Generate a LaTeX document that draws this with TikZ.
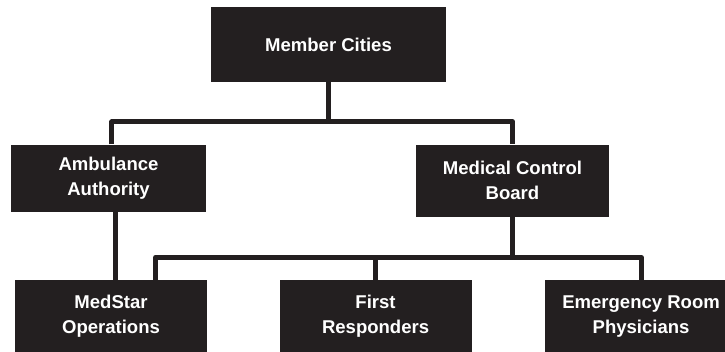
\documentclass[tikz,border=0pt]{standalone}
\usepackage{xcolor}
\usepackage{fontspec}
\setmainfont{Liberation Sans}
\usepackage{tikz}
\usetikzlibrary{positioning,calc}

\definecolor{boxblack}{HTML}{231F20}

\begin{document}
\begin{tikzpicture}[
  box/.style={rectangle, fill=boxblack, text=white, inner sep=0pt, align=center,
    font=\fontsize{13.9pt}{18.75pt}\selectfont\bfseries},
  link/.style={draw=boxblack, line width=3.75pt, line join=round},
]

\useasboundingbox (-246.375pt,33.375pt) rectangle (297.375pt,-230.625pt);
\clip (-246.375pt,33.375pt) rectangle (297.375pt,-230.625pt);

\node[box, minimum width=176.25pt, minimum height=56.25pt] (cities) {Member Cities};
\node[box, minimum width=146.25pt, minimum height=50.25pt, below=46.5pt of cities, xshift=-165pt] (ambulance) {Ambulance\\Authority};
\node[box, minimum width=144.75pt, minimum height=54pt, below=46.5pt of cities, xshift=138pt] (control) {Medical Control\\Board};
\node[box, minimum width=144pt, minimum height=54pt, below=51pt of ambulance, xshift=1.9pt] (medstar) {MedStar\\Operations};
\node[box, minimum width=144pt, minimum height=54pt, right=54pt of medstar] (responders) {First\\Responders};
\node[box, minimum width=144pt, minimum height=54pt, right=54.75pt of responders] (physicians) {Emergency Room\\Physicians};

% upper level
\draw[link] (cities.south) -- ++(0,-29.6pt) coordinate (topbar);
\draw[link] ([xshift=2.6pt]ambulance.north) |- (topbar) -| (control.north);

% lower level
\draw[link] (control.south) -- ++(0,-30.4pt) coordinate (lowbar);
\draw[link] ([xshift=33.4pt]medstar.north) |- (lowbar) -| (physicians.north);
\draw[link] (responders.north) -- (responders.north |- lowbar);
\draw[link] ([xshift=5.6pt]ambulance.south) -- ([xshift=5.6pt]ambulance.south |- medstar.north);

\end{tikzpicture}
\end{document}
